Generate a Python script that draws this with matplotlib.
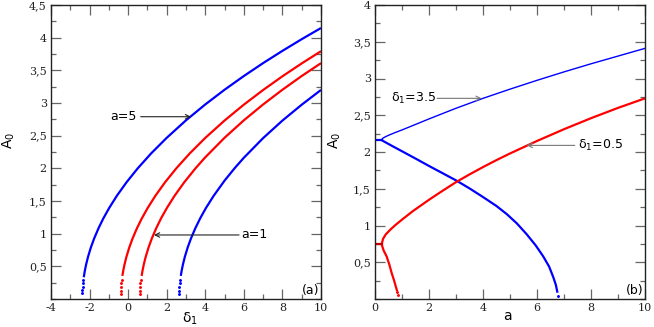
import matplotlib
matplotlib.use("Agg")
import matplotlib.pyplot as plt
from matplotlib.ticker import MultipleLocator, FuncFormatter, FixedLocator

# ---------------- data: panel (a) ----------------
# blue curve a=5
b1_d = [-2.30, -2.25, -2.18, -2.08, -1.93, -1.76, -1.53, -1.28, -0.98, -0.58, -0.08, 0.50, 1.20,
        2.00, 3.00, 4.00, 5.00, 6.00, 7.00, 8.00, 9.00, 10.00]
b1_A = [0.333, 0.425, 0.527, 0.646, 0.791, 0.928, 1.087, 1.237, 1.395, 1.582, 1.788, 2.001, 2.231,
        2.467, 2.735, 2.978, 3.203, 3.413, 3.611, 3.798, 3.977, 4.148]
b1_dot_d = [-2.38, -2.375, -2.365, -2.35, -2.33]
b1_dot_A = [0.09, 0.14, 0.19, 0.24, 0.29]
# red curve (left)
r1_d = [-0.30, -0.26, -0.19, -0.09, 0.06, 0.23, 0.46, 0.71, 1.01, 1.41, 1.91, 2.50, 3.20, 4.00,
        5.00, 6.00, 7.00, 8.00, 9.00, 10.00]
r1_A = [0.353, 0.424, 0.526, 0.645, 0.789, 0.927, 1.085, 1.234, 1.392, 1.579, 1.785, 2.001, 2.230, 2.466,
        2.732, 2.975, 3.199, 3.409, 3.606, 3.793]
r1_dot_d = [-0.39, -0.385, -0.375, -0.36, -0.34]
r1_dot_A = [0.07, 0.13, 0.19, 0.24, 0.29]
# red curve a=1
r2_d = [0.70, 0.74, 0.81, 0.91, 1.06, 1.23, 1.46, 1.71, 2.01, 2.41, 2.91, 3.50,
        4.00, 5.00, 6.00, 7.00, 8.00, 9.00, 10.00]
r2_A = [0.353, 0.425, 0.527, 0.645, 0.790, 0.928, 1.086, 1.236, 1.394, 1.581, 1.787, 2.003,
        2.169, 2.468, 2.735, 2.978, 3.203, 3.413, 3.610]
r2_dot_d = [0.61, 0.615, 0.625, 0.64, 0.66]
r2_dot_A = [0.07, 0.13, 0.19, 0.24, 0.29]
# blue curve (right)
b2_d = [2.73, 2.77, 2.84, 2.94, 3.09, 3.26, 3.49, 3.74, 4.04, 4.44, 5.00, 5.53,
        6.00, 7.00, 8.00, 9.00, 10.00]
b2_A = [0.354, 0.425, 0.527, 0.646, 0.791, 0.929, 1.087, 1.237, 1.396, 1.582, 1.812, 2.005,
        2.162, 2.463, 2.731, 2.974, 3.200]
b2_dot_d = [2.64, 2.645, 2.655, 2.67, 2.69]
b2_dot_A = [0.07, 0.13, 0.19, 0.24, 0.29]

# ---------------- data: panel (b) ----------------
bu_a = [0.25, 0.30, 0.40, 0.55, 0.75, 1.00, 1.50, 2.00, 3.00, 4.00, 5.00, 6.00, 7.00, 8.00, 9.00, 10.00]
bu_A = [2.17, 2.19, 2.21, 2.235, 2.265, 2.30, 2.375, 2.45, 2.595, 2.73, 2.855, 2.975, 3.09, 3.20, 3.305, 3.41]
bl_a = [0.25, 0.62, 1.00, 1.48, 2.00, 2.41, 3.02, 3.50, 4.01, 4.50, 4.88, 5.25, 5.62, 5.95,
        6.23, 6.45, 6.60, 6.70, 6.75]
bl_A = [2.16, 2.085, 2.01, 1.915, 1.81, 1.73, 1.61, 1.505, 1.385, 1.265, 1.155, 1.03, 0.88, 0.73,
        0.58, 0.44, 0.30, 0.19, 0.10]
bs_a = [0.0, 0.25]
bs_A = [2.17, 2.17]
ru_a = [0.25, 0.30, 0.40, 0.60, 0.80, 1.00, 1.40, 2.00, 2.41, 3.00, 3.50, 4.00, 4.50, 5.00, 5.50,
        6.00, 7.00, 8.00, 9.00, 10.00]
ru_A = [0.75, 0.82, 0.88, 0.955, 1.02, 1.08, 1.195, 1.35, 1.45, 1.59, 1.695, 1.795, 1.89, 1.98, 2.065,
        2.15, 2.31, 2.46, 2.60, 2.73]
rl_a = [0.25, 0.32, 0.43, 0.53, 0.62, 0.70, 0.77, 0.81]
rl_A = [0.74, 0.66, 0.58, 0.47, 0.35, 0.26, 0.17, 0.12]
rs_a = [0.0, 0.25]
rs_A = [0.75, 0.75]

xticks_a = [-4, -2, 0, 2, 4, 6, 8, 10]
yticks_a = [0.5, 1, 1.5, 2, 2.5, 3, 3.5, 4, 4.5]
xticks_b = [0, 2, 4, 6, 8, 10]
yticks_b = [0.5, 1, 1.5, 2, 2.5, 3, 3.5, 4]

BLUE = "#0000ff"
RED = "#ff0000"

plt.rcParams['font.family'] = ['DejaVu Sans']

fig = plt.figure(figsize=(6.54, 3.27), dpi=100)
W, H = 654, 327
axA = fig.add_axes([51 / W, 28 / H, 270 / W, 294 / H])
axB = fig.add_axes([375 / W, 28 / H, 270 / W, 294 / H])

fmt = FuncFormatter(lambda v, p: ('%g' % v).replace('.', ','))


def style(ax, xmin, xmax, ymax, xt, yt):
    ax.set_xlim(xmin, xmax)
    ax.set_ylim(0, ymax)
    ax.xaxis.set_major_locator(FixedLocator(xt))
    ax.yaxis.set_major_locator(FixedLocator(yt))
    ax.xaxis.set_minor_locator(MultipleLocator(1))
    ax.yaxis.set_minor_locator(MultipleLocator(0.25))
    ax.xaxis.set_major_formatter(fmt)
    ax.yaxis.set_major_formatter(fmt)
    ax.tick_params(which='both', direction='in', top=True, right=True,
                   color='#666666', width=0.9)
    ax.tick_params(which='major', length=7.5, labelsize=8, pad=3,
                   labelcolor='#222222')
    ax.tick_params(which='minor', length=3.8)
    for lab in ax.get_xticklabels() + ax.get_yticklabels():
        lab.set_family('DejaVu Serif')
    for s in ax.spines.values():
        s.set_color('#222222')
        s.set_linewidth(1.0)


style(axA, -4, 10, 4.5, xticks_a, yticks_a)
style(axB, 0, 10, 4, xticks_b, yticks_b)

# panel (a) curves
for d, A, dd, dA, c in [(b1_d, b1_A, b1_dot_d, b1_dot_A, BLUE),
                        (r1_d, r1_A, r1_dot_d, r1_dot_A, RED),
                        (r2_d, r2_A, r2_dot_d, r2_dot_A, RED),
                        (b2_d, b2_A, b2_dot_d, b2_dot_A, BLUE)]:
    axA.plot(d, A, color=c, lw=1.6, solid_capstyle='butt')
    axA.plot(dd, dA, ls='none', marker='.', ms=2.2, color=c)

# panel (b) curves
axB.plot(bu_a, bu_A, color=BLUE, lw=1.0)
axB.plot(bl_a, bl_A, color=BLUE, lw=1.6)
axB.plot([6.79], [0.04], ls='none', marker='.', ms=2.2, color=BLUE)
axB.plot(bs_a, bs_A, color=BLUE, lw=1.6)
axB.plot(ru_a, ru_A, color=RED, lw=1.6)
axB.plot(rl_a, rl_A, color=RED, lw=1.6)
axB.plot([0.83, 0.84], [0.09, 0.06], ls='none', marker='.', ms=2.2, color=RED)
axB.plot(rs_a, rs_A, color='#cc0000', lw=1.6)

# annotations (a)
arrow_k = dict(arrowstyle='->', color='#222222', lw=0.8, shrinkA=0, shrinkB=0,
               mutation_scale=8)
axA.text(0.45, 2.79, 'a=5', va='center', ha='right', fontsize=9)
axA.annotate('', xy=(3.26, 2.79), xytext=(0.65, 2.79), arrowprops=arrow_k)
axA.text(5.85, 0.98, 'a=1', va='center', ha='left', fontsize=9)
axA.annotate('', xy=(1.34, 0.98), xytext=(5.75, 0.98), arrowprops=arrow_k)
axA.text(0.995, 0.008, '(a)', transform=axA.transAxes, ha='right', va='bottom',
         fontsize=9)

# annotations (b)
arrow_g = dict(arrowstyle='->', color='#777777', lw=0.8, shrinkA=0, shrinkB=0,
               mutation_scale=8)
axB.text(0.6, 2.73, r'$\mathregular{δ_1}$=3.5', va='center', ha='left', fontsize=9)
axB.annotate('', xy=(3.95, 2.73), xytext=(2.3, 2.73), arrowprops=arrow_g)
axB.text(7.5, 2.09, r'$\mathregular{δ_1}$=0.5', va='center', ha='left', fontsize=9)
axB.annotate('', xy=(5.62, 2.09), xytext=(7.4, 2.09), arrowprops=arrow_g)
axB.text(0.995, 0.008, '(b)', transform=axB.transAxes, ha='right', va='bottom',
         fontsize=9)

# axis labels
axA.set_xlabel(r'$\mathregular{δ_1}$', fontsize=10)
axA.xaxis.set_label_coords(0.515, -0.04)
axA.set_ylabel(r'$\mathregular{A_0}$', fontsize=10)
axA.yaxis.set_label_coords(-0.125, 0.54)
axB.set_xlabel('a', fontsize=10)
axB.xaxis.set_label_coords(0.49, -0.035)
axB.set_ylabel(r'$\mathregular{A_0}$', fontsize=10)
axB.yaxis.set_label_coords(-0.118, 0.54)

fig.savefig('out.png', dpi=100)
